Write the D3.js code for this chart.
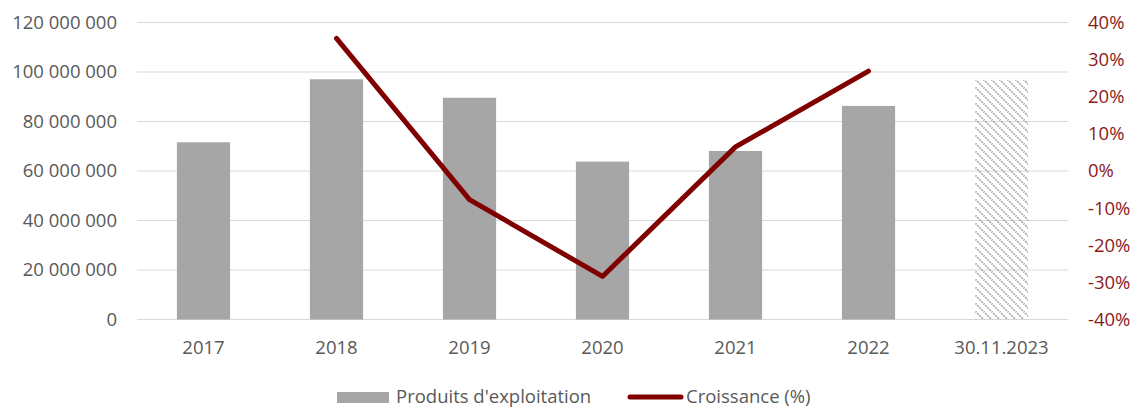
<!DOCTYPE html>
<html>
<head>
<meta charset="utf-8">
<script src="https://cdn.jsdelivr.net/npm/d3@7"></script>
<style>
  html, body { margin: 0; padding: 0; background: #fff; }
  svg { display: block; font-family: "Open Sans", "Liberation Sans", sans-serif; }
</style>
</head>
<body>
<svg id="chart" width="1147" height="408"></svg>
<script>
// Categories and values
const categories = ["2017", "2018", "2019", "2020", "2021", "2022", "30.11.2023"];
const produits = [71600000, 97050000, 89600000, 63800000, 68100000, 86300000, 96800000];
const croissance = [null, 0.357, -0.077, -0.284, 0.065, 0.269, null];
const leftTicks = [0, 20000000, 40000000, 60000000, 80000000, 100000000, 120000000];
const rightTicks = [-0.4, -0.3, -0.2, -0.1, 0, 0.1, 0.2, 0.3, 0.4];
const hatchedCategory = "30.11.2023";
const seriesNames = ["Produits d'exploitation", "Croissance (%)"];

const svg = d3.select("#chart");
const plot = { left: 137, right: 1068, top: 22.5, bottom: 319.5 };

const x = d3.scaleBand().domain(categories).range([plot.left, plot.right]).paddingInner(0.6).paddingOuter(0.3);
const yL = d3.scaleLinear().domain([0, 120000000]).range([plot.bottom, plot.top]);
const yR = d3.scaleLinear().domain([-0.4, 0.4]).range([plot.bottom, plot.top]);

const loc = d3.formatLocale({ decimal: ",", thousands: " ", grouping: [3], currency: ["", " €"], minus: "-", percent: "%" });
const fmtL = loc.format(",");
const fmtR = loc.format(".0%");

const textColor = "#595959";
const redText = "#8b1a1a";
const lineColor = "#800000";
const barColor = "#a6a6a6";
const gridColor = "#d9d9d9";
const fontSize = "18.5px";

// Hatch pattern for the partial-year bar
const defs = svg.append("defs");
const pat = defs.append("pattern")
  .attr("id", "hatch").attr("patternUnits", "userSpaceOnUse")
  .attr("width", 8).attr("height", 8);
pat.append("path").attr("d", "M-1,-1 L9,9 M7,-1 L9,1 M-1,7 L1,9")
  .attr("stroke", "#a0a0a0").attr("stroke-width", 1.6).attr("stroke-dasharray", "2 1");

// Gridlines
svg.append("g").selectAll("line").data(leftTicks).join("line")
  .attr("x1", plot.left).attr("x2", plot.right)
  .attr("y1", d => yL(d)).attr("y2", d => yL(d))
  .attr("stroke", gridColor).attr("stroke-width", 1.2);

function styleAxis(g, color) {
  g.attr("font-family", null).attr("font-size", null);
  g.select(".domain").remove();
  g.selectAll("text").attr("fill", color).style("font-size", fontSize);
}

// Left axis labels
svg.append("g").attr("transform", `translate(${plot.left - 20},0)`)
  .call(d3.axisLeft(yL).tickValues(leftTicks).tickFormat(fmtL).tickSize(0).tickPadding(0))
  .call(g => styleAxis(g, textColor));

// Right axis labels
svg.append("g").attr("transform", `translate(${plot.right + 20},0)`)
  .call(d3.axisRight(yR).tickValues(rightTicks).tickFormat(fmtR).tickSize(0).tickPadding(0))
  .call(g => styleAxis(g, redText));

// Bottom category labels
svg.append("g").attr("transform", `translate(0,${plot.bottom})`)
  .call(d3.axisBottom(x).tickSize(0).tickPadding(21))
  .call(g => styleAxis(g, textColor));

// Bars
svg.append("g").selectAll("rect").data(categories).join("rect")
  .attr("x", d => x(d)).attr("width", x.bandwidth())
  .attr("y", (d, i) => yL(produits[i]))
  .attr("height", (d, i) => yL(0) - yL(produits[i]))
  .attr("fill", d => d === hatchedCategory ? "url(#hatch)" : barColor);

// Growth line
const pts = categories.map((c, i) => [x(c) + x.bandwidth() / 2, croissance[i]]).filter(p => p[1] !== null);
svg.append("path")
  .attr("d", d3.line().x(p => p[0]).y(p => yR(p[1]))(pts))
  .attr("fill", "none").attr("stroke", lineColor).attr("stroke-width", 5)
  .attr("stroke-linecap", "round").attr("stroke-linejoin", "round");

// Legend
const lg = svg.append("g");
lg.append("rect").attr("x", 337).attr("y", 392).attr("width", 52).attr("height", 11).attr("fill", barColor);
lg.append("text").attr("x", 396).attr("y", 397).attr("dy", "0.35em")
  .attr("fill", textColor).style("font-size", fontSize).text(seriesNames[0]);
lg.append("line").attr("x1", 630).attr("x2", 681).attr("y1", 397).attr("y2", 397)
  .attr("stroke", lineColor).attr("stroke-width", 5).attr("stroke-linecap", "round");
lg.append("text").attr("x", 686).attr("y", 397).attr("dy", "0.35em")
  .attr("fill", textColor).style("font-size", fontSize).text(seriesNames[1]);
</script>
</body>
</html>
